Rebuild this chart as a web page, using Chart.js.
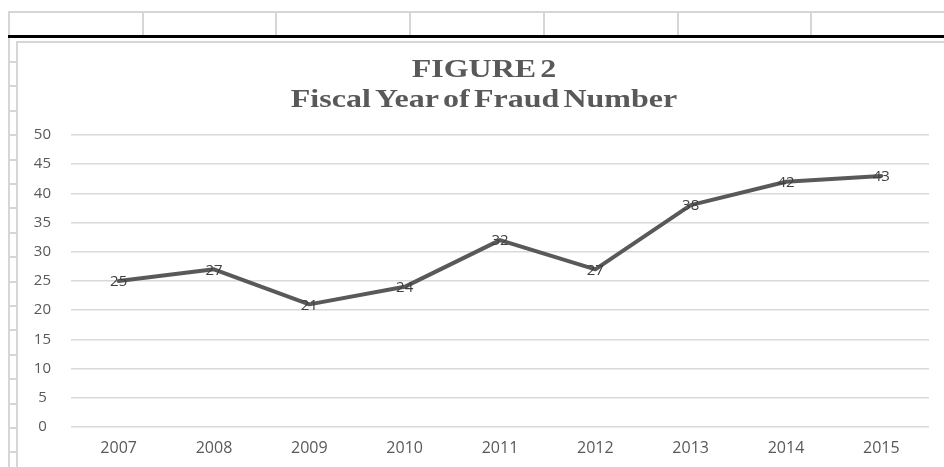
<!DOCTYPE html>
<html>
<head>
<meta charset="utf-8">
<title>Fiscal Year of Fraud Number</title>
<script src="https://cdn.jsdelivr.net/npm/chart.js@4.4.1/dist/chart.umd.min.js"></script>
<style>
  html, body { margin: 0; padding: 0; background: #fff; overflow: hidden; }
  body { width: 944px; height: 467px; position: relative; }
  .ln { position: absolute; background: #d6d6d6; }
  .ln.dark { background: #000; }
  #chart-box { position: absolute; left: 18px; top: 43px; width: 926px; height: 424px; }
</style>
</head>
<body>
<div id="sheet"></div>
<div id="chart-box"><canvas id="fraudChart"></canvas></div>
<script>
// chart data
const years = ['2007', '2008', '2009', '2010', '2011', '2012', '2013', '2014', '2015'];
const fraudCounts = [25, 27, 21, 24, 32, 27, 38, 42, 43];
const titleLines = ['FIGURE 2', 'Fiscal Year of Fraud Number'];
const yMin = 0;
const yMax = 50;
const yStep = 5;

// spreadsheet cells behind the chart
const sheet = document.getElementById('sheet');
const addLine = (x, y, w, h, cls) => {
    const d = document.createElement('div');
    d.className = 'ln' + (cls ? ' ' + cls : '');
    d.style.left = x + 'px';
    d.style.top = y + 'px';
    d.style.width = w + 'px';
    d.style.height = h + 'px';
    sheet.appendChild(d);
};
addLine(8, 11, 936, 2);
[8, 142, 275, 409, 543, 677, 810].forEach(x => addLine(x, 11, 2, 26));
addLine(8, 35, 936, 3, 'dark');
addLine(8, 38, 2, 429);
for (let y = 61; y < 467; y += 24.4) {
    addLine(8, Math.round(y), 9, 2);
}
// chart frame
addLine(16, 41, 928, 2);
addLine(16, 41, 2, 426);

// two-line title, drawn a bit wider than the plain serif face
const wideTitle = {
    id: 'wideTitle',
    afterDraw(chart) {
        const ctx = chart.ctx;
        const cx = chart.width / 2 + 3;
        ctx.save();
        ctx.fillStyle = '#595959';
        ctx.font = 'bold 25px "Liberation Serif", "Times New Roman", serif';
        ctx.textAlign = 'center';
        ctx.textBaseline = 'alphabetic';
        if ('wordSpacing' in ctx) ctx.wordSpacing = '-3px';
        [34, 64].forEach((y, i) => {
            ctx.save();
            ctx.translate(cx, y);
            ctx.scale(1.28, 1);
            ctx.fillText(titleLines[i], 0, 0);
            ctx.restore();
        });
        ctx.restore();
    }
};

// value labels centred on each point
const pointLabels = {
    id: 'pointLabels',
    afterDatasetsDraw(chart) {
        const ctx = chart.ctx;
        const meta = chart.getDatasetMeta(0);
        const values = chart.data.datasets[0].data;
        ctx.save();
        ctx.fillStyle = '#404040';
        ctx.font = '15px "Open Sans", sans-serif';
        ctx.textAlign = 'center';
        ctx.textBaseline = 'middle';
        meta.data.forEach((pt, i) => {
            ctx.fillText(String(values[i]), pt.x, pt.y + 1);
        });
        ctx.restore();
    }
};

const ctx = document.getElementById('fraudChart').getContext('2d');
new Chart(ctx, {
    type: 'line',
    data: {
        labels: years,
        datasets: [{
            label: 'Fraud Number',
            data: fraudCounts,
            borderColor: '#595959',
            borderWidth: 4,
            borderJoinStyle: 'round',
            borderCapStyle: 'round',
            pointRadius: 0,
            tension: 0,
            fill: false
        }]
    },
    options: {
        responsive: true,
        maintainAspectRatio: false,
        animation: false,
        layout: {
            padding: { top: 92, right: 15, bottom: 0, left: 0 }
        },
        plugins: {
            legend: { display: false },
            title: { display: false },
            tooltip: { enabled: false }
        },
        scales: {
            x: {
                offset: true,
                grid: { display: false, drawTicks: false },
                border: { display: false },
                ticks: {
                    color: '#595959',
                    font: { family: '"Open Sans", sans-serif', size: 16 },
                    padding: 12,
                    maxRotation: 0
                },
                afterFit(scale) { scale.height = 40; }
            },
            y: {
                min: yMin,
                max: yMax,
                grid: { color: '#d9d9d9', lineWidth: 1.5, drawTicks: false },
                border: { display: false },
                ticks: {
                    stepSize: yStep,
                    color: '#595959',
                    crossAlign: 'center',
                    padding: 20,
                    font: { family: '"Open Sans", sans-serif', size: 15 }
                },
                afterFit(scale) { scale.width = 53; }
            }
        }
    },
    plugins: [wideTitle, pointLabels]
});
</script>
</body>
</html>
